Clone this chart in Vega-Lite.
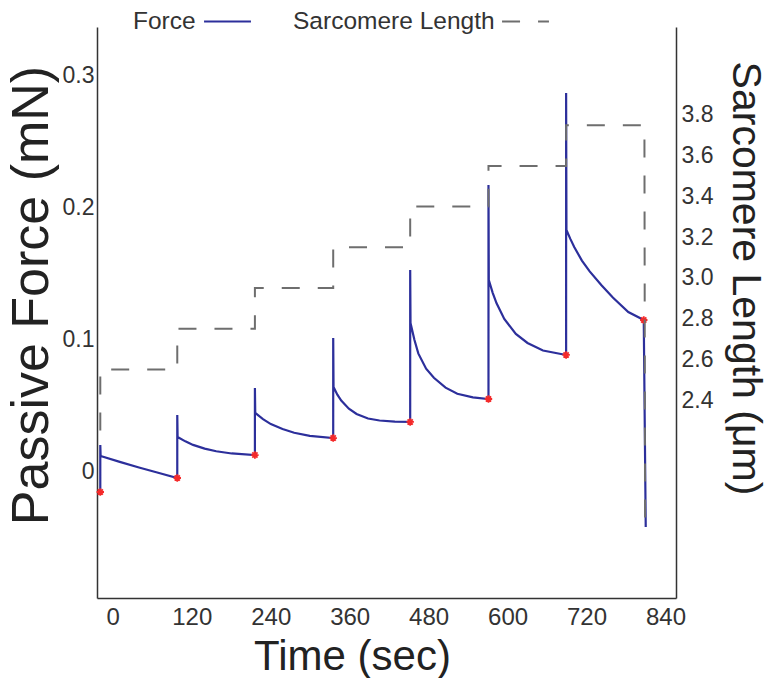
{
  "$schema": "https://vega.github.io/schema/vega-lite/v6.json",
  "width": 579,
  "height": 571,
  "autosize": {"type": "none"},
  "padding": {"left": 97, "top": 27, "right": 98, "bottom": 80},
  "background": "white",
  "config": {
    "view": {"stroke": null},
    "font": "Liberation Sans",
    "axis": {
      "grid": false,
      "ticks": false,
      "domainColor": "#333333",
      "domainWidth": 1.5,
      "labelColor": "#333333",
      "labelFontSize": 23,
      "labelFont": "Liberation Sans",
      "titleFont": "Liberation Sans",
      "titleColor": "#222222",
      "titleFontWeight": "normal"
    }
  },
  "datasets": {
    "force": [
      {"i": 1, "t": -19, "f": -0.0156},
      {"i": 2, "t": -19, "f": 0.020},
      {"i": 3, "t": -18.5, "f": 0.0117},
      {"i": 4, "t": 10.6, "f": 0.0072},
      {"i": 5, "t": 39.8, "f": 0.0030},
      {"i": 6, "t": 68.9, "f": -0.0010},
      {"i": 7, "t": 98, "f": -0.005},
      {"i": 8, "t": 98, "f": 0.0428},
      {"i": 9, "t": 98.5, "f": 0.0261},
      {"i": 10, "t": 110.3, "f": 0.0228},
      {"i": 11, "t": 122, "f": 0.0201},
      {"i": 12, "t": 139.6, "f": 0.0173},
      {"i": 13, "t": 157.2, "f": 0.0153},
      {"i": 14, "t": 180.7, "f": 0.0136},
      {"i": 15, "t": 216, "f": 0.0124},
      {"i": 16, "t": 216, "f": 0.0632},
      {"i": 17, "t": 216.5, "f": 0.0443},
      {"i": 18, "t": 228.3, "f": 0.0397},
      {"i": 19, "t": 240.2, "f": 0.0359},
      {"i": 20, "t": 258, "f": 0.0321},
      {"i": 21, "t": 275.7, "f": 0.0293},
      {"i": 22, "t": 299.4, "f": 0.0270},
      {"i": 23, "t": 335, "f": 0.0253},
      {"i": 24, "t": 335, "f": 0.1012},
      {"i": 25, "t": 335.5, "f": 0.064},
      {"i": 26, "t": 341.3, "f": 0.0582},
      {"i": 27, "t": 347.2, "f": 0.0537},
      {"i": 28, "t": 358.8, "f": 0.0476},
      {"i": 29, "t": 370.5, "f": 0.0436},
      {"i": 30, "t": 387.9, "f": 0.0401},
      {"i": 31, "t": 405.4, "f": 0.0386},
      {"i": 32, "t": 428.7, "f": 0.0378},
      {"i": 33, "t": 452, "f": 0.0375},
      {"i": 34, "t": 452, "f": 0.1527},
      {"i": 35, "t": 452.5, "f": 0.1125},
      {"i": 36, "t": 458.4, "f": 0.0998},
      {"i": 37, "t": 464.3, "f": 0.0895},
      {"i": 38, "t": 476.2, "f": 0.0779},
      {"i": 39, "t": 488, "f": 0.0710},
      {"i": 40, "t": 505.8, "f": 0.0635},
      {"i": 41, "t": 523.6, "f": 0.0589},
      {"i": 42, "t": 547.3, "f": 0.0561},
      {"i": 43, "t": 571, "f": 0.0549},
      {"i": 44, "t": 571, "f": 0.2172},
      {"i": 45, "t": 571.5, "f": 0.1451},
      {"i": 46, "t": 577.4, "f": 0.1354},
      {"i": 47, "t": 583.3, "f": 0.1275},
      {"i": 48, "t": 595, "f": 0.1156},
      {"i": 49, "t": 612.6, "f": 0.1042},
      {"i": 50, "t": 630.3, "f": 0.0974},
      {"i": 51, "t": 653.8, "f": 0.0917},
      {"i": 52, "t": 689, "f": 0.0883},
      {"i": 53, "t": 689, "f": 0.287},
      {"i": 54, "t": 689.5, "f": 0.1831},
      {"i": 55, "t": 695.4, "f": 0.1763},
      {"i": 56, "t": 701.3, "f": 0.1701},
      {"i": 57, "t": 713, "f": 0.1599},
      {"i": 58, "t": 724.8, "f": 0.1517},
      {"i": 59, "t": 742.4, "f": 0.1414},
      {"i": 60, "t": 760, "f": 0.1319},
      {"i": 61, "t": 783.5, "f": 0.1209},
      {"i": 62, "t": 807, "f": 0.1148},
      {"i": 63, "t": 810, "f": -0.0422}
    ],
    "stars": [
      {"t": -19, "f": -0.0156},
      {"t": 98, "f": -0.005},
      {"t": 216, "f": 0.0124},
      {"t": 335, "f": 0.0253},
      {"t": 452, "f": 0.0375},
      {"t": 571, "f": 0.0549},
      {"t": 689, "f": 0.0883},
      {"t": 807, "f": 0.1148}
    ],
    "sl": [
      {"i": 1, "t": -19, "sl": 2.25},
      {"i": 2, "t": -19, "sl": 2.55},
      {"i": 3, "t": 98, "sl": 2.55},
      {"i": 4, "t": 98, "sl": 2.75},
      {"i": 5, "t": 216, "sl": 2.75},
      {"i": 6, "t": 216, "sl": 2.95},
      {"i": 7, "t": 335, "sl": 2.95},
      {"i": 8, "t": 335, "sl": 3.15},
      {"i": 9, "t": 452, "sl": 3.15},
      {"i": 10, "t": 452, "sl": 3.35},
      {"i": 11, "t": 571, "sl": 3.35},
      {"i": 12, "t": 571, "sl": 3.55},
      {"i": 13, "t": 689, "sl": 3.55},
      {"i": 14, "t": 689, "sl": 3.75},
      {"i": 15, "t": 808, "sl": 3.75},
      {"i": 16, "t": 809, "sl": 1.77}
    ]
  },
  "layer": [
    {
      "layer": [
        {
          "data": {"name": "force"},
          "mark": {"type": "line", "strokeWidth": 2.2},
          "encoding": {
            "x": {
              "field": "t", "type": "quantitative",
              "scale": {"domain": [-24, 856], "nice": false, "zero": false},
              "axis": {
                "values": [0, 120, 240, 360, 480, 600, 720, 840],
                "labelPadding": 7,
                "labelFontSize": 24,
                "title": "Time (sec)",
                "titleFontSize": 42,
                "titleX": 255,
                "titleY": 71,
                "titleBaseline": "alphabetic"
              }
            },
            "y": {
              "field": "f", "type": "quantitative",
              "scale": {"domain": [-0.096, 0.337], "nice": false, "zero": false},
              "axis": {
                "values": [0, 0.1, 0.2, 0.3],
                "format": "~g",
                "labelPadding": 3,
                "title": "Passive Force (mN)",
                "titleFontSize": 52,
                "titleBaseline": "alphabetic",
                "titleX": -50,
                "titleY": 268
              }
            },
            "order": {"field": "i", "type": "quantitative"},
            "color": {
              "datum": "Force",
              "scale": {"range": ["#2c2f9b"]},
              "legend": {
                "orient": "none",
                "legendX": 36,
                "legendY": -30,
                "title": "Force",
                "titleOrient": "left",
                "titleAnchor": "middle",
                "titleBaseline": "middle",
                "titleFontSize": 24.5,
                "titleFontWeight": "normal",
                "titleColor": "#333333",
                "titlePadding": 7,
                "labelExpr": "''",
                "labelOffset": 0,
                "symbolType": "stroke",
                "symbolSize": 2200,
                "symbolStrokeWidth": 2,
                "encode": {"title": {"update": {"dy": {"value": 10}}}}
              }
            }
          }
        },
        {
          "data": {"name": "stars"},
          "mark": {
            "type": "point",
            "shape": "M-1,0L1,0M0,-1L0,1M-0.7,-0.7L0.7,0.7M-0.7,0.7L0.7,-0.7",
            "filled": false,
            "color": "#f42a2a",
            "size": 55,
            "strokeWidth": 1.8,
            "opacity": 1
          },
          "encoding": {
            "x": {"field": "t", "type": "quantitative"},
            "y": {"field": "f", "type": "quantitative"}
          }
        }
      ]
    },
    {
      "data": {"name": "sl"},
      "mark": {"type": "line", "color": "#6e6e6e", "strokeWidth": 2},
      "encoding": {
        "x": {"field": "t", "type": "quantitative"},
        "y": {
          "field": "sl", "type": "quantitative",
          "scale": {"domain": [1.428, 4.232], "nice": false, "zero": false},
          "axis": {
            "orient": "right",
            "values": [2.4, 2.6, 2.8, 3.0, 3.2, 3.4, 3.6, 3.8],
            "format": ".1f",
            "labelPadding": 5,
            "title": "Sarcomere Length (μm)",
            "titleFontSize": 41,
            "titleY": 251,
            "titlePadding": 11
          }
        },
        "order": {"field": "i", "type": "quantitative"},
        "strokeDash": {
          "datum": "Sarcomere Length",
          "scale": {"range": [[18, 18]]},
          "legend": {
            "orient": "none",
            "legendX": 196,
            "legendY": -30,
            "title": "Sarcomere Length",
            "titleOrient": "left",
            "titleAnchor": "middle",
            "titleBaseline": "middle",
            "titleLimit": 400,
            "titleFontSize": 24.5,
            "titleFontWeight": "normal",
            "titleColor": "#333333",
            "titlePadding": 6,
            "labelExpr": "''",
            "labelOffset": 0,
            "symbolType": "stroke",
            "symbolSize": 2200,
            "symbolStrokeWidth": 2,
            "symbolStrokeColor": "#6e6e6e",
            "encode": {
              "symbols": {"update": {"strokeDash": {"value": [12, 22]}}},
              "title": {"update": {"dy": {"value": 10}}}
            }
          }
        }
      }
    }
  ],
  "resolve": {"scale": {"y": "independent"}}
}
